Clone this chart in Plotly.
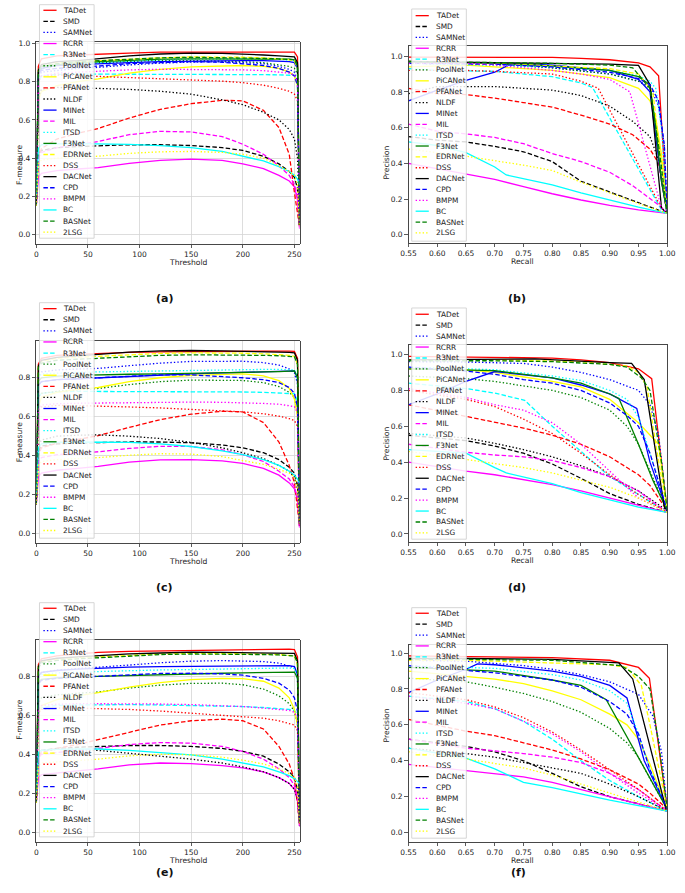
import plotly.graph_objects as go

W, H = 685, 893

NAMES = ["TADet", "SMD", "SAMNet", "RCRR", "R3Net", "PoolNet", "PiCANet", "PFANet",
         "NLDF", "MINet", "MIL", "ITSD", "F3Net", "EDRNet", "DSS", "DACNet", "CPD",
         "BMPM", "BC", "BASNet", "2LSG"]

# thresholds at which F-measure was read
T = [0, 2, 5, 20, 40, 60, 90, 120, 150, 180, 200, 220, 235, 245, 250, 253, 255]

# ---------------- (a) F-measure vs threshold ----------------
A_F = {
    "TADet":   [0.15, 0.88, 0.92, 0.935, 0.94, 0.945, 0.95, 0.955, 0.955, 0.956, 0.957, 0.958, 0.958, 0.957, 0.955, 0.93, 0.06],
    "SMD":     [0.15, 0.42, 0.44, 0.455, 0.46, 0.465, 0.47, 0.47, 0.466, 0.455, 0.44, 0.41, 0.37, 0.33, 0.30, 0.24, 0.04],
    "SAMNet":  [0.15, 0.82, 0.85, 0.86, 0.87, 0.875, 0.888, 0.897, 0.903, 0.904, 0.90, 0.895, 0.88, 0.865, 0.85, 0.80, 0.05],
    "RCRR":    [0.15, 0.30, 0.32, 0.335, 0.343, 0.35, 0.372, 0.388, 0.395, 0.388, 0.37, 0.345, 0.31, 0.28, 0.25, 0.18, 0.03],
    "R3Net":   [0.15, 0.80, 0.83, 0.838, 0.84, 0.84, 0.84, 0.84, 0.84, 0.839, 0.838, 0.837, 0.836, 0.835, 0.833, 0.80, 0.05],
    "PoolNet": [0.15, 0.84, 0.87, 0.885, 0.895, 0.90, 0.908, 0.912, 0.912, 0.91, 0.905, 0.90, 0.89, 0.88, 0.87, 0.84, 0.05],
    "PiCANet": [0.15, 0.70, 0.75, 0.78, 0.80, 0.815, 0.845, 0.865, 0.878, 0.884, 0.885, 0.88, 0.87, 0.85, 0.83, 0.78, 0.05],
    "PFANet":  [0.15, 0.40, 0.45, 0.50, 0.53, 0.555, 0.61, 0.655, 0.685, 0.703, 0.70, 0.65, 0.56, 0.42, 0.22, 0.10, 0.04],
    "NLDF":    [0.15, 0.72, 0.76, 0.77, 0.768, 0.765, 0.76, 0.75, 0.735, 0.705, 0.68, 0.64, 0.60, 0.55, 0.50, 0.40, 0.05],
    "MINet":   [0.15, 0.84, 0.87, 0.885, 0.89, 0.895, 0.90, 0.905, 0.908, 0.91, 0.91, 0.91, 0.908, 0.905, 0.90, 0.87, 0.05],
    "MIL":     [0.15, 0.40, 0.43, 0.455, 0.47, 0.487, 0.523, 0.54, 0.537, 0.513, 0.473, 0.42, 0.36, 0.31, 0.26, 0.20, 0.04],
    "ITSD":    [0.15, 0.85, 0.88, 0.89, 0.895, 0.90, 0.91, 0.915, 0.918, 0.92, 0.92, 0.92, 0.918, 0.915, 0.91, 0.88, 0.05],
    "F3Net":   [0.15, 0.85, 0.88, 0.89, 0.90, 0.905, 0.912, 0.918, 0.92, 0.92, 0.92, 0.92, 0.92, 0.918, 0.915, 0.89, 0.05],
    "EDRNet":  [0.15, 0.86, 0.89, 0.90, 0.905, 0.91, 0.92, 0.925, 0.93, 0.93, 0.928, 0.925, 0.92, 0.915, 0.91, 0.87, 0.05],
    "DSS":     [0.15, 0.80, 0.83, 0.835, 0.832, 0.828, 0.822, 0.817, 0.81, 0.803, 0.795, 0.782, 0.765, 0.75, 0.735, 0.70, 0.05],
    "DACNet":  [0.15, 0.86, 0.89, 0.905, 0.91, 0.92, 0.935, 0.945, 0.95, 0.948, 0.945, 0.94, 0.935, 0.932, 0.93, 0.90, 0.05],
    "CPD":     [0.15, 0.83, 0.86, 0.87, 0.876, 0.882, 0.895, 0.902, 0.905, 0.902, 0.895, 0.885, 0.87, 0.85, 0.83, 0.78, 0.05],
    "BMPM":    [0.15, 0.80, 0.83, 0.845, 0.85, 0.855, 0.862, 0.865, 0.865, 0.864, 0.862, 0.858, 0.852, 0.845, 0.835, 0.80, 0.05],
    "BC":      [0.20, 0.45, 0.47, 0.475, 0.476, 0.475, 0.472, 0.465, 0.455, 0.435, 0.41, 0.385, 0.355, 0.33, 0.31, 0.29, 0.26],
    "BASNet":  [0.15, 0.85, 0.88, 0.895, 0.905, 0.91, 0.92, 0.925, 0.928, 0.927, 0.925, 0.922, 0.92, 0.918, 0.915, 0.88, 0.05],
    "2LSG":    [0.15, 0.37, 0.39, 0.40, 0.405, 0.41, 0.425, 0.433, 0.435, 0.43, 0.42, 0.40, 0.36, 0.33, 0.31, 0.26, 0.04],
}

# ---------------- (c) F-measure vs threshold ----------------
C_F = {
    "TADet":   [0.15, 0.87, 0.90, 0.915, 0.92, 0.925, 0.93, 0.933, 0.935, 0.936, 0.937, 0.937, 0.937, 0.937, 0.936, 0.90, 0.05],
    "SMD":     [0.15, 0.42, 0.45, 0.46, 0.465, 0.468, 0.47, 0.47, 0.466, 0.455, 0.44, 0.415, 0.38, 0.34, 0.31, 0.25, 0.04],
    "SAMNet":  [0.15, 0.80, 0.83, 0.84, 0.845, 0.848, 0.862, 0.875, 0.884, 0.886, 0.885, 0.878, 0.865, 0.845, 0.825, 0.77, 0.05],
    "RCRR":    [0.15, 0.29, 0.31, 0.325, 0.335, 0.345, 0.367, 0.378, 0.38, 0.373, 0.36, 0.335, 0.30, 0.26, 0.23, 0.17, 0.03],
    "R3Net":   [0.15, 0.70, 0.72, 0.728, 0.73, 0.73, 0.73, 0.73, 0.73, 0.728, 0.727, 0.725, 0.723, 0.72, 0.718, 0.68, 0.05],
    "PoolNet": [0.15, 0.70, 0.72, 0.73, 0.738, 0.745, 0.765, 0.78, 0.788, 0.789, 0.786, 0.775, 0.755, 0.725, 0.70, 0.62, 0.05],
    "PiCANet": [0.15, 0.65, 0.70, 0.725, 0.74, 0.75, 0.78, 0.80, 0.812, 0.818, 0.82, 0.81, 0.785, 0.745, 0.69, 0.60, 0.05],
    "PFANet":  [0.15, 0.40, 0.44, 0.465, 0.483, 0.503, 0.545, 0.585, 0.613, 0.628, 0.625, 0.57, 0.47, 0.35, 0.26, 0.14, 0.04],
    "NLDF":    [0.15, 0.45, 0.48, 0.50, 0.505, 0.507, 0.50, 0.488, 0.468, 0.44, 0.415, 0.385, 0.35, 0.32, 0.29, 0.23, 0.04],
    "MINet":   [0.15, 0.76, 0.78, 0.79, 0.795, 0.80, 0.808, 0.815, 0.82, 0.825, 0.828, 0.83, 0.832, 0.834, 0.835, 0.80, 0.05],
    "MIL":     [0.15, 0.37, 0.39, 0.405, 0.412, 0.42, 0.437, 0.448, 0.447, 0.43, 0.405, 0.37, 0.32, 0.28, 0.24, 0.18, 0.03],
    "ITSD":    [0.15, 0.80, 0.82, 0.825, 0.828, 0.83, 0.833, 0.836, 0.838, 0.84, 0.842, 0.843, 0.843, 0.842, 0.84, 0.80, 0.05],
    "F3Net":   [0.15, 0.78, 0.80, 0.808, 0.812, 0.815, 0.818, 0.82, 0.822, 0.825, 0.828, 0.83, 0.832, 0.834, 0.835, 0.80, 0.05],
    "EDRNet":  [0.15, 0.86, 0.885, 0.90, 0.905, 0.91, 0.92, 0.925, 0.928, 0.928, 0.926, 0.923, 0.92, 0.915, 0.91, 0.87, 0.05],
    "DSS":     [0.15, 0.63, 0.65, 0.658, 0.657, 0.655, 0.65, 0.645, 0.638, 0.632, 0.625, 0.615, 0.603, 0.59, 0.58, 0.55, 0.05],
    "DACNet":  [0.15, 0.86, 0.89, 0.905, 0.912, 0.92, 0.932, 0.938, 0.94, 0.938, 0.937, 0.935, 0.932, 0.93, 0.928, 0.89, 0.05],
    "CPD":     [0.15, 0.76, 0.78, 0.79, 0.795, 0.80, 0.81, 0.815, 0.815, 0.808, 0.80, 0.79, 0.775, 0.75, 0.72, 0.65, 0.05],
    "BMPM":    [0.15, 0.64, 0.66, 0.667, 0.669, 0.67, 0.673, 0.675, 0.675, 0.674, 0.672, 0.668, 0.664, 0.658, 0.652, 0.62, 0.05],
    "BC":      [0.20, 0.44, 0.46, 0.468, 0.47, 0.47, 0.468, 0.46, 0.447, 0.425, 0.405, 0.38, 0.35, 0.32, 0.30, 0.28, 0.26],
    "BASNet":  [0.15, 0.85, 0.875, 0.89, 0.895, 0.90, 0.91, 0.915, 0.918, 0.918, 0.917, 0.915, 0.913, 0.91, 0.908, 0.87, 0.05],
    "2LSG":    [0.15, 0.35, 0.37, 0.38, 0.385, 0.39, 0.402, 0.41, 0.408, 0.395, 0.375, 0.355, 0.33, 0.31, 0.29, 0.24, 0.04],
}

# ---------------- (e) F-measure vs threshold ----------------
E_F = {
    "TADet":   [0.15, 0.86, 0.89, 0.905, 0.915, 0.923, 0.928, 0.93, 0.932, 0.935, 0.937, 0.94, 0.94, 0.94, 0.938, 0.90, 0.05],
    "SMD":     [0.15, 0.40, 0.42, 0.43, 0.436, 0.44, 0.445, 0.445, 0.44, 0.43, 0.415, 0.39, 0.35, 0.31, 0.28, 0.22, 0.04],
    "SAMNet":  [0.15, 0.79, 0.82, 0.832, 0.84, 0.846, 0.858, 0.87, 0.878, 0.881, 0.88, 0.876, 0.868, 0.855, 0.845, 0.79, 0.05],
    "RCRR":    [0.15, 0.28, 0.295, 0.305, 0.315, 0.325, 0.345, 0.355, 0.352, 0.342, 0.33, 0.31, 0.28, 0.25, 0.22, 0.16, 0.03],
    "R3Net":   [0.15, 0.62, 0.64, 0.65, 0.653, 0.655, 0.655, 0.653, 0.65, 0.648, 0.645, 0.64, 0.635, 0.63, 0.625, 0.60, 0.05],
    "PoolNet": [0.15, 0.66, 0.69, 0.705, 0.713, 0.72, 0.74, 0.755, 0.764, 0.765, 0.757, 0.735, 0.70, 0.66, 0.62, 0.55, 0.05],
    "PiCANet": [0.15, 0.60, 0.65, 0.68, 0.70, 0.716, 0.745, 0.768, 0.783, 0.79, 0.788, 0.775, 0.74, 0.69, 0.63, 0.55, 0.05],
    "PFANet":  [0.15, 0.38, 0.41, 0.43, 0.45, 0.475, 0.515, 0.55, 0.572, 0.58, 0.572, 0.53, 0.44, 0.35, 0.27, 0.15, 0.04],
    "NLDF":    [0.15, 0.40, 0.42, 0.425, 0.425, 0.42, 0.405, 0.39, 0.375, 0.355, 0.335, 0.31, 0.28, 0.25, 0.22, 0.17, 0.03],
    "MINet":   [0.15, 0.80, 0.82, 0.83, 0.837, 0.842, 0.847, 0.85, 0.852, 0.854, 0.855, 0.856, 0.856, 0.855, 0.85, 0.81, 0.05],
    "MIL":     [0.15, 0.38, 0.40, 0.41, 0.42, 0.43, 0.45, 0.46, 0.457, 0.44, 0.415, 0.375, 0.325, 0.28, 0.24, 0.18, 0.03],
    "ITSD":    [0.15, 0.79, 0.81, 0.818, 0.822, 0.825, 0.83, 0.833, 0.835, 0.838, 0.84, 0.842, 0.843, 0.843, 0.84, 0.80, 0.05],
    "F3Net":   [0.15, 0.77, 0.785, 0.792, 0.797, 0.80, 0.806, 0.81, 0.813, 0.816, 0.818, 0.82, 0.822, 0.823, 0.822, 0.79, 0.05],
    "EDRNet":  [0.15, 0.85, 0.875, 0.888, 0.895, 0.90, 0.91, 0.915, 0.918, 0.918, 0.917, 0.915, 0.912, 0.908, 0.905, 0.86, 0.05],
    "DSS":     [0.15, 0.61, 0.63, 0.637, 0.637, 0.635, 0.63, 0.622, 0.612, 0.602, 0.595, 0.585, 0.572, 0.56, 0.55, 0.52, 0.05],
    "DACNet":  [0.15, 0.85, 0.88, 0.893, 0.90, 0.906, 0.915, 0.92, 0.924, 0.923, 0.922, 0.92, 0.92, 0.919, 0.918, 0.88, 0.05],
    "CPD":     [0.15, 0.76, 0.78, 0.79, 0.795, 0.80, 0.81, 0.815, 0.816, 0.813, 0.806, 0.79, 0.765, 0.73, 0.69, 0.62, 0.05],
    "BMPM":    [0.15, 0.63, 0.65, 0.657, 0.66, 0.66, 0.66, 0.658, 0.655, 0.65, 0.645, 0.637, 0.63, 0.625, 0.615, 0.59, 0.05],
    "BC":      [0.20, 0.41, 0.42, 0.425, 0.427, 0.427, 0.42, 0.41, 0.397, 0.375, 0.355, 0.335, 0.31, 0.29, 0.275, 0.26, 0.25],
    "BASNet":  [0.15, 0.84, 0.87, 0.882, 0.89, 0.895, 0.905, 0.912, 0.915, 0.915, 0.914, 0.912, 0.91, 0.908, 0.905, 0.87, 0.05],
    "2LSG":    [0.15, 0.34, 0.355, 0.362, 0.368, 0.375, 0.392, 0.40, 0.397, 0.385, 0.37, 0.35, 0.325, 0.30, 0.28, 0.24, 0.04],
}

# ---------------- (b) precision-recall ----------------
B_R = {
    "TADet":   [0.55, 0.65, 0.8, 0.85, 0.9, 0.95, 0.97, 0.985, 1.0],
    "SMD":     [0.55, 0.6, 0.65, 0.7, 0.75, 0.8, 0.85, 0.9, 0.95, 1.0],
    "SAMNet":  [0.55, 0.7, 0.8, 0.9, 0.95, 0.97, 0.985, 0.995, 1.0],
    "RCRR":    [0.55, 0.6, 0.65, 0.7, 0.75, 0.8, 0.85, 0.9, 0.95, 1.0],
    "R3Net":   [0.55, 0.6, 0.7, 0.8, 0.85, 0.87, 0.99, 1.0],
    "PoolNet": [0.55, 0.7, 0.8, 0.9, 0.95, 0.97, 0.99, 1.0],
    "PiCANet": [0.55, 0.65, 0.7, 0.8, 0.9, 0.95, 0.97, 0.98, 0.99, 1.0],
    "PFANet":  [0.55, 0.6, 0.65, 0.7, 0.8, 0.85, 0.9, 0.94, 0.97, 0.985, 1.0],
    "NLDF":    [0.55, 0.6, 0.7, 0.75, 0.8, 0.85, 0.9, 0.94, 0.97, 0.985, 1.0],
    "MINet":   [0.55, 0.6, 0.65, 0.7, 0.73, 0.8, 0.9, 0.95, 0.97, 0.99, 1.0],
    "MIL":     [0.55, 0.6, 0.65, 0.7, 0.75, 0.8, 0.85, 0.9, 0.94, 0.99, 1.0],
    "ITSD":    [0.55, 0.8, 0.9, 0.95, 0.97, 0.98, 0.99, 1.0],
    "F3Net":   [0.55, 0.7, 0.8, 0.9, 0.95, 0.97, 0.98, 0.99, 1.0],
    "EDRNet":  [0.55, 0.7, 0.9, 0.95, 0.975, 0.99, 1.0],
    "DSS":     [0.55, 0.65, 0.7, 0.8, 0.85, 0.88, 0.99, 1.0],
    "DACNet":  [0.55, 0.7, 0.8, 0.9, 0.95, 0.97, 0.99, 1.0],
    "CPD":     [0.55, 0.7, 0.8, 0.9, 0.95, 0.97, 0.985, 0.995, 1.0],
    "BMPM":    [0.55, 0.65, 0.7, 0.8, 0.85, 0.9, 0.935, 0.99, 1.0],
    "BC":      [0.55, 0.6, 0.65, 0.7, 0.72, 0.8, 0.85, 0.9, 0.95, 1.0],
    "BASNet":  [0.55, 0.7, 0.8, 0.9, 0.94, 0.97, 0.985, 1.0],
    "2LSG":    [0.55, 0.6, 0.65, 0.7, 0.75, 0.8, 0.85, 0.9, 0.95, 1.0],
}
B_P = {
    "TADet":   [0.995, 0.995, 0.993, 0.988, 0.98, 0.962, 0.94, 0.89, 0.12],
    "SMD":     [0.55, 0.53, 0.52, 0.495, 0.465, 0.41, 0.30, 0.24, 0.18, 0.12],
    "SAMNet":  [0.97, 0.955, 0.935, 0.90, 0.86, 0.83, 0.72, 0.50, 0.12],
    "RCRR":    [0.40, 0.37, 0.34, 0.31, 0.27, 0.23, 0.195, 0.165, 0.14, 0.12],
    "R3Net":   [0.93, 0.92, 0.915, 0.885, 0.85, 0.825, 0.14, 0.12],
    "PoolNet": [0.96, 0.955, 0.935, 0.90, 0.86, 0.82, 0.40, 0.12],
    "PiCANet": [0.94, 0.95, 0.94, 0.92, 0.88, 0.82, 0.75, 0.65, 0.45, 0.12],
    "PFANet":  [0.82, 0.79, 0.785, 0.765, 0.715, 0.67, 0.62, 0.56, 0.48, 0.40, 0.12],
    "NLDF":    [0.79, 0.83, 0.83, 0.82, 0.81, 0.78, 0.72, 0.635, 0.55, 0.42, 0.12],
    "MINet":   [0.75, 0.81, 0.865, 0.91, 0.96, 0.95, 0.92, 0.87, 0.80, 0.30, 0.12],
    "MIL":     [0.62, 0.58, 0.565, 0.545, 0.51, 0.455, 0.41, 0.35, 0.275, 0.155, 0.12],
    "ITSD":    [0.96, 0.94, 0.92, 0.89, 0.86, 0.82, 0.60, 0.12],
    "F3Net":   [0.97, 0.96, 0.945, 0.92, 0.885, 0.84, 0.60, 0.30, 0.12],
    "EDRNet":  [0.97, 0.96, 0.93, 0.90, 0.80, 0.40, 0.12],
    "DSS":     [0.92, 0.92, 0.915, 0.90, 0.86, 0.82, 0.15, 0.12],
    "DACNet":  [0.97, 0.965, 0.96, 0.955, 0.948, 0.84, 0.15, 0.12],
    "CPD":     [0.96, 0.955, 0.94, 0.91, 0.875, 0.84, 0.75, 0.50, 0.12],
    "BMPM":    [0.96, 0.96, 0.95, 0.92, 0.90, 0.87, 0.80, 0.15, 0.12],
    "BC":      [0.52, 0.50, 0.46, 0.38, 0.335, 0.28, 0.235, 0.195, 0.155, 0.12],
    "BASNet":  [0.97, 0.965, 0.96, 0.95, 0.935, 0.82, 0.50, 0.12],
    "2LSG":    [0.48, 0.46, 0.44, 0.415, 0.39, 0.36, 0.295, 0.235, 0.175, 0.12],
}

# ---------------- (d) precision-recall ----------------
D_R = {
    "TADet":   [0.55, 0.65, 0.8, 0.85, 0.9, 0.95, 0.973, 1.0],
    "SMD":     [0.55, 0.6, 0.65, 0.7, 0.75, 0.8, 0.85, 0.9, 0.95, 1.0],
    "SAMNet":  [0.55, 0.65, 0.75, 0.8, 0.85, 0.9, 0.95, 0.97, 0.985, 1.0],
    "RCRR":    [0.55, 0.65, 0.7, 0.8, 0.85, 0.9, 0.95, 1.0],
    "R3Net":   [0.55, 0.65, 0.7, 0.752, 0.8, 0.85, 0.9, 0.95, 1.0],
    "PoolNet": [0.55, 0.65, 0.7, 0.8, 0.85, 0.9, 0.93, 0.95, 0.97, 1.0],
    "PiCANet": [0.55, 0.65, 0.7, 0.8, 0.85, 0.9, 0.95, 0.985, 1.0],
    "PFANet":  [0.55, 0.65, 0.7, 0.75, 0.8, 0.85, 0.9, 0.95, 0.97, 1.0],
    "NLDF":    [0.55, 0.65, 0.7, 0.75, 0.8, 0.85, 0.9, 0.95, 1.0],
    "MINet":   [0.55, 0.6, 0.65, 0.7, 0.8, 0.85, 0.9, 0.947, 0.97, 1.0],
    "MIL":     [0.55, 0.65, 0.7, 0.75, 0.8, 0.85, 0.9, 0.95, 1.0],
    "ITSD":    [0.55, 0.65, 0.7, 0.8, 0.85, 0.9, 0.93, 0.95, 0.97, 1.0],
    "F3Net":   [0.55, 0.65, 0.7, 0.8, 0.85, 0.9, 0.916, 0.95, 0.975, 1.0],
    "EDRNet":  [0.55, 0.7, 0.85, 0.93, 0.95, 0.965, 0.98, 1.0],
    "DSS":     [0.55, 0.65, 0.7, 0.75, 0.8, 0.85, 0.9, 0.95, 1.0],
    "DACNet":  [0.55, 0.77, 0.9, 0.938, 0.96, 0.995, 1.0],
    "CPD":     [0.55, 0.65, 0.7, 0.75, 0.8, 0.85, 0.9, 0.93, 0.95, 0.97, 1.0],
    "BMPM":    [0.55, 0.65, 0.7, 0.75, 0.8, 0.85, 0.9, 0.95, 1.0],
    "BC":      [0.55, 0.65, 0.7, 0.72, 0.8, 0.85, 0.9, 0.95, 1.0],
    "BASNet":  [0.55, 0.7, 0.8, 0.9, 0.93, 0.955, 0.97, 0.99, 1.0],
    "2LSG":    [0.55, 0.65, 0.7, 0.75, 0.8, 0.85, 0.9, 0.95, 1.0],
}
D_P = {
    "TADet":   [0.99, 0.985, 0.98, 0.97, 0.955, 0.92, 0.865, 0.13],
    "SMD":     [0.55, 0.535, 0.52, 0.49, 0.45, 0.39, 0.31, 0.225, 0.165, 0.12],
    "SAMNet":  [0.96, 0.958, 0.95, 0.93, 0.90, 0.86, 0.80, 0.72, 0.55, 0.13],
    "RCRR":    [0.40, 0.35, 0.33, 0.275, 0.24, 0.20, 0.16, 0.12],
    "R3Net":   [0.84, 0.81, 0.785, 0.745, 0.60, 0.46, 0.32, 0.22, 0.12],
    "PoolNet": [0.88, 0.865, 0.85, 0.80, 0.76, 0.69, 0.60, 0.50, 0.35, 0.13],
    "PiCANet": [0.92, 0.915, 0.90, 0.85, 0.82, 0.75, 0.62, 0.50, 0.13],
    "PFANet":  [0.72, 0.655, 0.625, 0.59, 0.55, 0.50, 0.43, 0.33, 0.27, 0.13],
    "NLDF":    [0.56, 0.535, 0.505, 0.47, 0.43, 0.38, 0.32, 0.24, 0.13],
    "MINet":   [0.72, 0.78, 0.85, 0.905, 0.87, 0.83, 0.78, 0.70, 0.40, 0.13],
    "MIL":     [0.50, 0.455, 0.44, 0.43, 0.41, 0.37, 0.32, 0.24, 0.12],
    "ITSD":    [0.93, 0.92, 0.915, 0.88, 0.855, 0.80, 0.75, 0.65, 0.45, 0.13],
    "F3Net":   [0.92, 0.915, 0.91, 0.87, 0.84, 0.78, 0.755, 0.50, 0.30, 0.13],
    "EDRNet":  [0.97, 0.97, 0.96, 0.935, 0.90, 0.82, 0.50, 0.13],
    "DSS":     [0.80, 0.75, 0.71, 0.64, 0.56, 0.45, 0.33, 0.22, 0.12],
    "DACNet":  [0.97, 0.975, 0.955, 0.95, 0.86, 0.15, 0.13],
    "CPD":     [0.93, 0.907, 0.89, 0.86, 0.84, 0.80, 0.73, 0.66, 0.60, 0.45, 0.13],
    "BMPM":    [0.81, 0.76, 0.72, 0.69, 0.62, 0.50, 0.35, 0.20, 0.12],
    "BC":      [0.47, 0.45, 0.37, 0.34, 0.28, 0.23, 0.19, 0.15, 0.12],
    "BASNet":  [0.965, 0.965, 0.96, 0.945, 0.93, 0.87, 0.80, 0.40, 0.13],
    "2LSG":    [0.46, 0.415, 0.39, 0.37, 0.34, 0.30, 0.26, 0.20, 0.12],
}

# ---------------- (f) precision-recall ----------------
F_R = {
    "TADet":   [0.55, 0.65, 0.8, 0.9, 0.95, 0.969, 1.0],
    "SMD":     [0.55, 0.65, 0.7, 0.75, 0.8, 0.85, 0.9, 0.95, 1.0],
    "SAMNet":  [0.55, 0.65, 0.75, 0.8, 0.85, 0.9, 0.95, 0.975, 0.99, 1.0],
    "RCRR":    [0.55, 0.65, 0.7, 0.75, 0.8, 0.85, 0.9, 0.95, 1.0],
    "R3Net":   [0.55, 0.65, 0.7, 0.75, 0.8, 0.85, 0.9, 0.95, 1.0],
    "PoolNet": [0.55, 0.65, 0.7, 0.75, 0.8, 0.85, 0.9, 0.93, 0.95, 0.97, 1.0],
    "PiCANet": [0.55, 0.65, 0.7, 0.75, 0.8, 0.85, 0.9, 0.93, 0.95, 0.97, 1.0],
    "PFANet":  [0.55, 0.65, 0.7, 0.75, 0.8, 0.85, 0.9, 0.95, 0.97, 1.0],
    "NLDF":    [0.55, 0.65, 0.7, 0.75, 0.8, 0.85, 0.9, 0.95, 1.0],
    "MINet":   [0.55, 0.6, 0.65, 0.67, 0.7, 0.8, 0.85, 0.9, 0.93, 0.96, 1.0],
    "MIL":     [0.55, 0.65, 0.7, 0.75, 0.8, 0.85, 0.9, 0.95, 1.0],
    "ITSD":    [0.55, 0.65, 0.7, 0.8, 0.85, 0.9, 0.93, 0.95, 0.97, 1.0],
    "F3Net":   [0.55, 0.65, 0.7, 0.8, 0.85, 0.894, 1.0],
    "EDRNet":  [0.55, 0.65, 0.9, 0.93, 0.955, 0.97, 1.0],
    "DSS":     [0.55, 0.65, 0.7, 0.75, 0.8, 0.85, 0.9, 0.95, 1.0],
    "DACNet":  [0.55, 0.65, 0.8, 0.9, 0.916, 0.94, 0.998],
    "CPD":     [0.55, 0.65, 0.7, 0.8, 0.85, 0.9, 0.93, 0.95, 0.97, 1.0],
    "BMPM":    [0.55, 0.65, 0.7, 0.75, 0.8, 0.85, 0.9, 0.95, 1.0],
    "BC":      [0.55, 0.65, 0.7, 0.75, 0.8, 0.85, 0.9, 0.95, 1.0],
    "BASNet":  [0.55, 0.65, 0.8, 0.9, 0.92, 0.95, 0.97, 0.985, 1.0],
    "2LSG":    [0.55, 0.65, 0.7, 0.75, 0.8, 0.85, 0.9, 0.95, 1.0],
}
F_P = {
    "TADet":   [0.985, 0.98, 0.975, 0.96, 0.92, 0.86, 0.13],
    "SMD":     [0.52, 0.48, 0.45, 0.40, 0.33, 0.255, 0.20, 0.16, 0.12],
    "SAMNet":  [0.96, 0.955, 0.93, 0.91, 0.88, 0.84, 0.77, 0.65, 0.45, 0.13],
    "RCRR":    [0.38, 0.345, 0.325, 0.31, 0.28, 0.24, 0.20, 0.16, 0.12],
    "R3Net":   [0.76, 0.73, 0.69, 0.62, 0.52, 0.40, 0.29, 0.20, 0.12],
    "PoolNet": [0.86, 0.84, 0.81, 0.775, 0.73, 0.67, 0.58, 0.50, 0.42, 0.30, 0.13],
    "PiCANet": [0.90, 0.87, 0.855, 0.83, 0.79, 0.74, 0.66, 0.60, 0.52, 0.38, 0.13],
    "PFANet":  [0.63, 0.565, 0.54, 0.50, 0.46, 0.41, 0.35, 0.27, 0.22, 0.13],
    "NLDF":    [0.47, 0.44, 0.42, 0.39, 0.36, 0.33, 0.27, 0.20, 0.12],
    "MINet":   [0.78, 0.85, 0.91, 0.94, 0.935, 0.90, 0.87, 0.82, 0.75, 0.40, 0.13],
    "MIL":     [0.52, 0.47, 0.455, 0.44, 0.42, 0.39, 0.33, 0.24, 0.12],
    "ITSD":    [0.93, 0.92, 0.915, 0.88, 0.85, 0.79, 0.72, 0.55, 0.35, 0.13],
    "F3Net":   [0.92, 0.905, 0.90, 0.85, 0.82, 0.74, 0.13],
    "EDRNet":  [0.96, 0.96, 0.935, 0.92, 0.82, 0.60, 0.13],
    "DSS":     [0.78, 0.74, 0.70, 0.64, 0.56, 0.46, 0.35, 0.24, 0.12],
    "DACNet":  [0.97, 0.97, 0.965, 0.948, 0.945, 0.856, 0.13],
    "CPD":     [0.93, 0.905, 0.89, 0.85, 0.81, 0.73, 0.66, 0.55, 0.35, 0.13],
    "BMPM":    [0.76, 0.72, 0.69, 0.62, 0.55, 0.45, 0.33, 0.22, 0.12],
    "BC":      [0.47, 0.415, 0.355, 0.28, 0.25, 0.215, 0.18, 0.15, 0.12],
    "BASNet":  [0.965, 0.965, 0.96, 0.935, 0.93, 0.87, 0.80, 0.50, 0.13],
    "2LSG":    [0.45, 0.41, 0.385, 0.36, 0.32, 0.27, 0.22, 0.17, 0.12],
}

# ---------------- styling ----------------
PALETTE = ["#ff0000", "#000000", "#0000ff", "#ff00ff", "#00ffff", "#008000", "#ffff00"]
DASHES = ["solid", "4.5px,2.2px", "1.4px,2.1px"]
FONT = "DejaVu Sans"
LW = 1.3


def style(i):
    return PALETTE[i % 7], DASHES[i % 3]


def px(x):
    return x / W


def py(y):
    return 1 - y / H


# panel frames in pixels: (left, top, right, bottom), y-range, kind
PANELS = [
    dict(box=(29, 39.5, 299, 241.7), yr=[-0.049, 1.006], kind="F"),
    dict(box=(410.7, 43.3, 676, 240.7), yr=[-0.045, 1.056], kind="PR"),
    dict(box=(29, 339.3, 299, 541.7), yr=[-0.048, 0.988], kind="F"),
    dict(box=(410.7, 343.3, 676, 540.7), yr=[-0.044, 1.052], kind="PR"),
    dict(box=(29, 639.3, 299, 841.7), yr=[-0.05, 0.986], kind="F"),
    dict(box=(410.7, 644, 676, 841.7), yr=[-0.052, 1.046], kind="PR"),
]
LEGENDS = [
    (32.3, 1.7, 236.0, 7.3, 11.13),
    (414.0, 6.0, 239.0, 12.7, 10.9),
    (32.3, 300.7, 537.0, 306.7, 11.13),
    (414.0, 306.0, 538.0, 312.3, 10.97),
    (32.3, 601.7, 836.7, 607.3, 11.18),
    (414.0, 606.7, 838.0, 612.3, 10.93),
]
LABELS = ["(a)", "(b)", "(c)", "(d)", "(e)", "(f)"]
LABEL_X = [150, 533, 150, 533, 150, 533]
LABEL_Y = [288, 288, 586, 586, 881, 881]
XTITLE_X = [164, 540, 164, 540, 164, 540]

fig = go.Figure()
layout = dict(
    width=W, height=H, margin=dict(l=0, r=0, t=0, b=0),
    paper_bgcolor="white", plot_bgcolor="white", showlegend=False,
    font=dict(family=FONT, size=7.5, color="#222"),
)
shapes, annotations = [], []

for k, p in enumerate(PANELS):
    ax = "" if k == 0 else str(k + 1)
    l, t, r, b = p["box"]
    grid = p["kind"] == "F"
    xa = dict(domain=[px(l), px(r)], anchor="y" + ax, showline=True, mirror=True,
              linecolor="#333", linewidth=0.9, ticks="outside", ticklen=3.5,
              tickwidth=0.8, tickcolor="#333", zeroline=False, showgrid=grid,
              gridcolor="#d4d4d4", gridwidth=0.8,
              tickfont=dict(family=FONT, size=7.5, color="#222"))
    ya = dict(domain=[py(b), py(t)], anchor="x" + ax, showline=True, mirror=True,
              linecolor="#333", linewidth=0.9, ticks="outside", ticklen=3.5,
              tickwidth=0.8, tickcolor="#333", zeroline=False, showgrid=grid,
              gridcolor="#d4d4d4", gridwidth=0.8, range=p["yr"],
              tick0=0, dtick=0.2, tickformat=".1f",
              tickfont=dict(family=FONT, size=7.5, color="#222"))
    if grid:
        xa.update(range=[0, 255], tick0=0, dtick=50)
    else:
        xa.update(range=[0.55, 1.0], tick0=0.55, dtick=0.05, tickformat=".2f")
    layout["xaxis" + ax] = xa
    layout["yaxis" + ax] = ya

    for i, name in enumerate(NAMES):
        color, dash = style(i)
        if k == 0:
            xs, ys = T, A_F[name]
        elif k == 2:
            xs, ys = T, C_F[name]
        elif k == 4:
            xs, ys = T, E_F[name]
        elif k == 1:
            xs, ys = B_R[name], B_P[name]
        elif k == 3:
            xs, ys = D_R[name], D_P[name]
        else:
            xs, ys = F_R[name], F_P[name]
        fig.add_trace(go.Scatter(x=xs, y=ys, mode="lines", name=name,
                                 line=dict(color=color, width=LW, dash=dash),
                                 xaxis="x" + ax, yaxis="y" + ax, hoverinfo="skip"))

    # axis titles
    annotations.append(dict(text="Threshold" if grid else "Recall",
                            x=px(XTITLE_X[k]), y=py(b + 19.0), yanchor="middle",
                            xref="paper", yref="paper", showarrow=False, borderpad=0,
                            font=dict(family=FONT, size=7.6, color="#222")))
    annotations.append(dict(text="F-measure" if grid else "Precision",
                            x=px(l - 23), y=py((t + b) / 2), textangle=-90,
                            xref="paper", yref="paper", showarrow=False, borderpad=0,
                            font=dict(family=FONT, size=7.6, color="#222")))
    annotations.append(dict(text="<b>" + LABELS[k] + "</b>", x=px(LABEL_X[k]),
                            y=py(LABEL_Y[k]), xref="paper", yref="paper", showarrow=False,
                            font=dict(family=FONT, size=11, color="#111")))

    # legend (drawn as a box with line samples and real text labels)
    lx, ltop, lbot, y0, dy = LEGENDS[k]
    shapes.append(dict(type="rect", xref="paper", yref="paper",
                       x0=px(lx), x1=px(lx + 56), y0=py(lbot), y1=py(ltop),
                       fillcolor="rgba(255,255,255,0.85)",
                       line=dict(color="#cccccc", width=0.8), layer="above"))
    for i, name in enumerate(NAMES):
        color, dash = style(i)
        yy = y0 + i * dy
        shapes.append(dict(type="line", xref="paper", yref="paper",
                           x0=px(lx + 4), x1=px(lx + 17.5), y0=py(yy), y1=py(yy),
                           line=dict(color=color, width=LW, dash=dash), layer="above"))
        annotations.append(dict(text=name, x=px(lx + 23.5), y=py(yy), xanchor="left",
                                yanchor="middle", xref="paper", yref="paper",
                                showarrow=False, borderpad=0,
                                font=dict(family=FONT, size=7.4, color="#222")))

layout["shapes"] = shapes
layout["annotations"] = annotations
fig.update_layout(**layout)
# remove the default 8px page margin so the 685x893 figure fills the window exactly
fig.write_html("out.html",
               config={"displayModeBar": False, "staticPlot": True},
               post_script="document.body.style.margin='0';document.body.style.overflow='hidden';")
